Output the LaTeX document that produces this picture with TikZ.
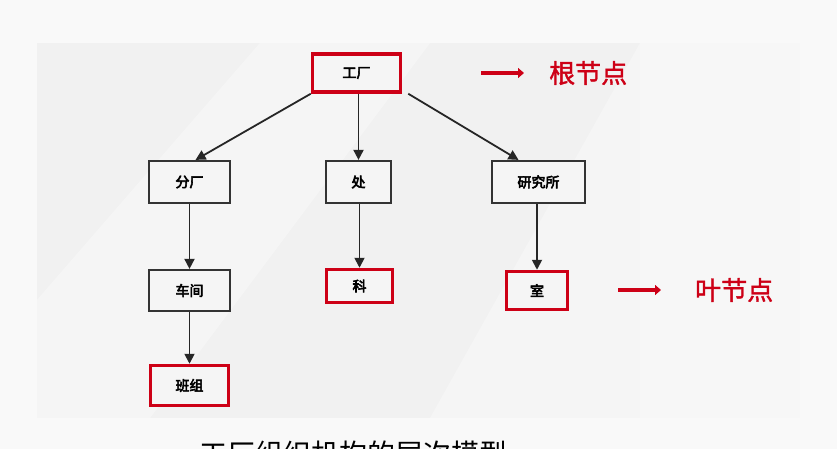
\documentclass[tikz,border=0pt]{standalone}
\usepackage{fontspec}
\newfontfamily\cjk{Noto Sans CJK SC}
\newfontfamily\cjkb{Noto Sans CJK SC}[FakeBold=4]
\newfontfamily\cjkm{Noto Sans CJK SC}[FakeBold=1.5]
\usetikzlibrary{arrows.meta}
\definecolor{myred}{RGB}{205,0,22}
\definecolor{pagebg}{RGB}{249,249,249}
\definecolor{panelbg}{RGB}{241,241,241}
\tikzset{
  x=1pt, y=-1pt,
  box/.style={draw=black!80, line width=2.2pt, fill=white!96!black, inner sep=0pt,
    font=\cjkb\fontsize{14}{14}\selectfont},
  leaf/.style={box, draw=myred, line width=3.5pt},
  conn/.style={draw=black!85, line width=1.8pt, -{Triangle[length=10pt,width=10pt]}},
  redarr/.style={draw=myred, line width=4pt, -{Triangle[length=6pt,width=10pt]}},
  redlabel/.style={text=myred, font=\cjkm\fontsize{26}{26}\selectfont, anchor=west, inner sep=0pt}
}
\begin{document}
\begin{tikzpicture}
\useasboundingbox (0,0) rectangle (837,449);
\clip (0,0) rectangle (837,449);
\fill[pagebg] (0,0) rectangle (837,449);
\fill[panelbg] (37,43) rectangle (800,418);
\fill[white,opacity=0.35] (37,300) -- (260,43) -- (430,43) -- (150,418) -- (37,418) -- cycle;
\fill[white,opacity=0.3] (430,418) -- (640,43) -- (800,43) -- (800,418) -- cycle;
\fill[white,opacity=0.2] (640,43) rectangle (800,418);

\node[leaf, minimum width=88pt, minimum height=38pt] (root) at (356.5,73) {工厂};
\node[box, minimum width=81pt, minimum height=42pt] (fc) at (189.5,182) {分厂};
\node[box, minimum width=65pt, minimum height=42pt] (chu) at (358.5,182) {处};
\node[box, minimum width=93pt, minimum height=42pt] (yjs) at (538.5,182) {研究所};
\node[box, minimum width=81pt, minimum height=41pt] (cj) at (189.5,290.5) {车间};
\node[leaf, minimum width=66pt, minimum height=33pt] (ke) at (359.5,286) {科};
\node[leaf, minimum width=61pt, minimum height=38pt] (shi) at (537,290.5) {室};
\node[leaf, minimum width=78pt, minimum height=40pt] (bz) at (189.5,385.5) {班组};

\draw[conn] (root.south west) -- ([xshift=6pt]fc.north);
\draw[conn] (chu.north |- root.south) -- (chu.north);
\draw[conn] ([xshift=6pt]root.south east) -- ([xshift=-20pt]yjs.north);
\draw[conn] (fc) -- (cj);
\draw[conn] (chu.south -| ke.north) -- (ke.north);
\draw[conn] (yjs.south -| shi.north) -- (shi.north);
\draw[conn] (cj) -- (bz);

\coordinate (a1) at (481,73);
\coordinate (a2) at (524,73);
\draw[redarr] (a1) -- (a2);
\node[redlabel] (rootlbl) at (549,73) {根节点};
\coordinate (b1) at (618,290);
\coordinate (b2) at (661,290);
\draw[redarr] (b1) -- (b2);
\node[redlabel] (leaflbl) at (695,290) {叶节点};

\node[anchor=north west, inner sep=0pt, font=\cjk\fontsize{28}{28}\selectfont] (cap) at (199,441) {工厂组织机构的层次模型};
\end{tikzpicture}
\end{document}
